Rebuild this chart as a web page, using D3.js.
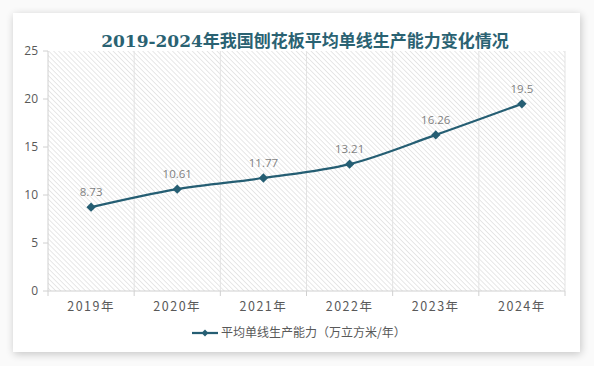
<!DOCTYPE html>
<html>
<head>
<meta charset="utf-8">
<script src="https://cdn.jsdelivr.net/npm/d3@7"></script>
<style>
  body { margin: 0; background: #fafafa; }
  svg { display: block; }
</style>
</head>
<body>
<script>
// chart data
var years = ["2019年", "2020年", "2021年", "2022年", "2023年", "2024年"];
var capacity = [8.73, 10.61, 11.77, 13.21, 16.26, 19.5];
var yTicks = [0, 5, 10, 15, 20, 25];
var title = "2019-2024年我国刨花板平均单线生产能力变化情况";
var seriesName = "平均单线生产能力（万立方米/年）";

var W = 594, H = 366;
var margin = {top: 51, right: 29, bottom: 75, left: 48},
    width = W - margin.left - margin.right,
    height = H - margin.top - margin.bottom;

var lineColor = "#255e73";
var textColor = "#595959";

var svg = d3.select("body").append("svg")
    .attr("width", W)
    .attr("height", H);

var defs = svg.append("defs");

// soft card shadow
var f = defs.append("filter").attr("id", "shadow")
    .attr("x", "-10%").attr("y", "-10%").attr("width", "120%").attr("height", "120%");
f.append("feGaussianBlur").attr("in", "SourceAlpha").attr("stdDeviation", 4);
f.append("feOffset").attr("dx", 1).attr("dy", 2).attr("result", "b");
f.append("feComponentTransfer").append("feFuncA").attr("type", "linear").attr("slope", 0.22);
var fm = f.append("feMerge");
fm.append("feMergeNode");
fm.append("feMergeNode").attr("in", "SourceGraphic");

// diagonal hatch for the plot area
var pat = defs.append("pattern").attr("id", "hatch")
    .attr("patternUnits", "userSpaceOnUse")
    .attr("width", 3.5).attr("height", 3.5)
    .attr("patternTransform", "rotate(-45)");
pat.append("line")
    .attr("x1", 0).attr("y1", 0).attr("x2", 0).attr("y2", 3.5)
    .attr("stroke", "#c9c9c9").attr("stroke-width", 0.9);

svg.append("rect")
    .attr("x", 0).attr("y", 0).attr("width", W).attr("height", H)
    .attr("fill", "#fafafa");

svg.append("rect")
    .attr("x", 13).attr("y", 13).attr("width", 567).attr("height", 339)
    .attr("fill", "#fff")
    .attr("filter", "url(#shadow)");

svg.append("text")
    .attr("x", 305).attr("y", 47)
    .attr("text-anchor", "middle")
    .attr("font-family", "'DejaVu Serif', 'Noto Sans CJK SC', serif")
    .attr("font-weight", "bold")
    .attr("font-size", 17)
    .attr("fill", "#2a6272")
    .text(title);

var g = svg.append("g")
    .attr("transform", "translate(" + margin.left + "," + margin.top + ")");

var xScale = d3.scaleBand().domain(years).range([0, width]);
var yScale = d3.scaleLinear().domain([0, 25]).range([height, 0]);

g.append("rect")
    .attr("width", width).attr("height", height)
    .attr("fill", "url(#hatch)");

// vertical gridlines at category boundaries
var bounds = years.map(function(d) { return xScale(d); }).concat([width]);
g.append("g").selectAll("line")
    .data(bounds.slice(1))
    .enter().append("line")
    .attr("x1", function(d) { return d; })
    .attr("x2", function(d) { return d; })
    .attr("y1", 0).attr("y2", height)
    .attr("stroke", "#e3e3e3");

// x axis
var xAxis = g.append("g")
    .attr("transform", "translate(0," + height + ")");
xAxis.append("line")
    .attr("x1", 0).attr("x2", width)
    .attr("stroke", "#d0d0d0");
xAxis.selectAll(".tk")
    .data(bounds)
    .enter().append("line")
    .attr("x1", function(d) { return d; })
    .attr("x2", function(d) { return d; })
    .attr("y1", 0).attr("y2", 5)
    .attr("stroke", "#d0d0d0");
xAxis.selectAll("text")
    .data(years)
    .enter().append("text")
    .attr("x", function(d) { return xScale(d) + xScale.bandwidth() / 2; })
    .attr("y", 20)
    .attr("text-anchor", "middle")
    .attr("font-family", "'Noto Sans CJK SC', sans-serif")
    .attr("font-size", 12.5)
    .attr("letter-spacing", 1.5)
    .attr("fill", textColor)
    .text(function(d) { return d; });

// y axis
var yAxis = g.append("g");
yAxis.append("line")
    .attr("y1", 0).attr("y2", height)
    .attr("stroke", "#d0d0d0");
yAxis.selectAll(".tk")
    .data(yTicks)
    .enter().append("line")
    .attr("x1", -5).attr("x2", 0)
    .attr("y1", function(d) { return yScale(d); })
    .attr("y2", function(d) { return yScale(d); })
    .attr("stroke", "#d0d0d0");
yAxis.selectAll("text")
    .data(yTicks)
    .enter().append("text")
    .attr("x", -10)
    .attr("y", function(d) { return yScale(d); })
    .attr("dy", "0.35em")
    .attr("text-anchor", "end")
    .attr("font-family", "'Open Sans', sans-serif")
    .attr("font-size", 12)
    .attr("fill", textColor)
    .text(function(d) { return d; });

var pts = years.map(function(d, i) {
    return {x: xScale(d) + xScale.bandwidth() / 2, y: yScale(capacity[i]), v: capacity[i]};
});

var line = d3.line()
    .x(function(d) { return d.x; })
    .y(function(d) { return d.y; })
    .curve(d3.curveMonotoneX);

g.append("path")
    .datum(pts)
    .attr("d", line)
    .attr("fill", "none")
    .attr("stroke", lineColor)
    .attr("stroke-width", 2.25);

var diamond = d3.symbol().type(d3.symbolDiamond2).size(55);

g.selectAll(".pt")
    .data(pts)
    .enter().append("path")
    .attr("d", diamond)
    .attr("transform", function(d) { return "translate(" + d.x + "," + d.y + ")"; })
    .attr("fill", lineColor);

g.selectAll(".lbl")
    .data(pts)
    .enter().append("text")
    .attr("x", function(d) { return d.x; })
    .attr("y", function(d) { return d.y - 11; })
    .attr("text-anchor", "middle")
    .attr("font-family", "'Open Sans', sans-serif")
    .attr("font-size", 11.5)
    .attr("fill", "#7f7f7f")
    .text(function(d) { return d.v; });

// legend
var lg = svg.append("g").attr("transform", "translate(192,333)");
lg.append("line")
    .attr("x1", 0).attr("x2", 26)
    .attr("stroke", lineColor).attr("stroke-width", 2.25);
lg.append("path")
    .attr("d", d3.symbol().type(d3.symbolDiamond2).size(30))
    .attr("transform", "translate(13,0)")
    .attr("fill", lineColor);
lg.append("text")
    .attr("x", 29).attr("y", 0).attr("dy", "0.35em")
    .attr("font-family", "'Noto Sans CJK SC', sans-serif")
    .attr("font-size", 12)
    .attr("fill", textColor)
    .text(seriesName);
</script>
</body>
</html>
